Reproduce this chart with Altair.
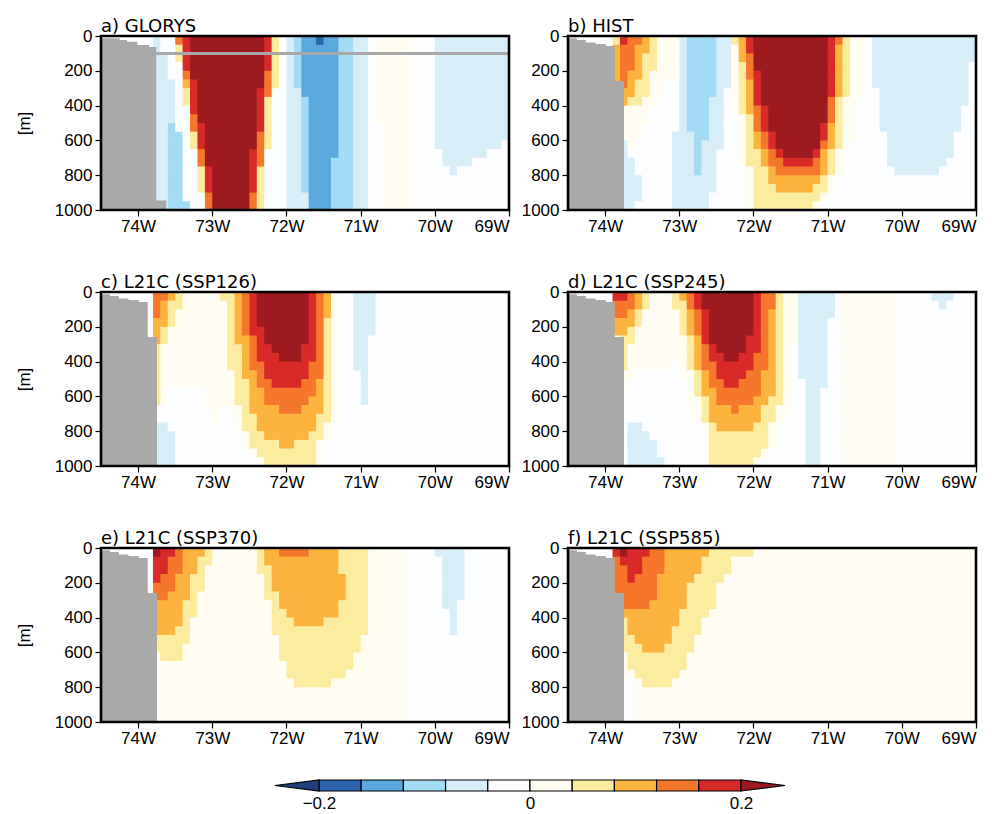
import sys
import altair as alt
import pandas as pd

# ------------------------------------------------------------------ data
# contour classes (one code per colour band of the colour bar)
CLASS_CODES = ["N", "B", "C", "D", "E", ".", "-", "y", "o", "O", "r", "R"]
CLASS_COLORS = ["#203f7e", "#2b65ad", "#5aa8dc", "#a3dbf5", "#d7eef9", "#fcfdff",
                "#fffdf2", "#fcec9f", "#fdb43e", "#f5772c", "#d92a2a", "#9d1a1f"]
LEVELS = [-0.2, -0.16, -0.12, -0.08, -0.04, 0.0, 0.04, 0.08, 0.12, 0.16, 0.2]
CB_LABELS = [-0.2, 0.0, 0.2]

LON_MIN, LON_MAX = -74.5, -69.0
LON_STEP = 0.1          # raster column width (deg)
DEPTH_STEP = 50         # raster row height (m)
NCOL = 55
LON_TICKS = [-74, -73, -72, -71, -70, -69]
DEPTH_TICKS = [0, 200, 400, 600, 800, 1000]

# bathymetry (stepped land mask): right edge of each step and its top depth
GLORYS_LAND_EDGE = [-74.25, -74.15, -74.01, -73.85, -73.755, -73.62]
GLORYS_LAND_TOP = [13, 23, 33, 52, 63, 946]
MODEL_LAND_EDGE = [-74.38, -74.26, -74.13, -73.99, -73.87, -73.745]
MODEL_LAND_TOP = [13, 23, 38, 46, 57, 259]
GLORYS_LINE_DEPTH = 100
GLORYS_LINE_START = -73.755

# rows of 50 m (0-1000 m), 55 columns of 0.1 deg (74.5W-69W), run-length coded
GLORYS_ROWS = [
    "7. E 2. O r 10R r y . E D 2C B 2C 2D 2E . 5- 3. 10E",
    "7. E 2. y r 10R r y . E D 5C 2D 2E . 5- 3. 10E",
    "7. 2E . y r 10R r y . E D 5C 2D 2E . 5- 3. 10E",
    "7. 2E 2. r 10R r y . E D 5C 2D 2E . 5- 3. 10E",
    "7. 2E 2. O 10R O y . E D 5C 2D 2E . 5- 3. 10E",
    "7. 3E . o r 9R O y . E D 5C 2D 2E . 5- 3. 10E",
    "7. 3E . y r 8R r O 2. 2E 5C 2D 2E . 5- 3. 10E",
    "7. 3E . y r 8R r y 2. 2E D 4C 2D 2E . 5- 3. 10E",
    "7. 3E 2. r 8R r y 2. 2E D 4C 2D 2E . 5- 3. 10E",
    "7. 3E 2. O 8R r y 2. 2E D 4C 2D 2E . 5- 3. 10E",
    "7. 2E D 2. O r 7R r y 2. 2E D 4C 2D 2E 2. 4- 3. 10E",
    "7. 2E 2D . y r 7R O y 2. 2E D 4C 2D 2E 2. 4- 3. 10E",
    "7. 2E 2D . y r 7R O y 2. 2E D 4C 2D 2E 2. 4- 3. 9E .",
    "7. 2E 2D 2. O 6R r O 3. 2E D 4C 2D 2E 2. 4- 3. . 6E 3.",
    "7. 2E 2D 2. O 6R r O 3. 2E D 3C 3D 2E 2. 4- 3. . 4E 5.",
    "7. 2E 2D 2. y r 5R r y 3. 2E D 3C 3D 2E 2. 4- 3. 2. E 7.",
    "7. 2E 2D 2. y r 5R r y 3. 2E D 3C 3D 2E 2. 4- 13.",
    "7. 2E 2D 2. y r 5R r y 3. 2E D 3C 3D 2E 2. 4- 13.",
    "7. 2E 2D 3. O 5R O y 3. 3E 3C 3D 2E 2. 4- 13.",
    "7. 2E 3D 2. O 5R O y 3. 3E 3C 3D 2E 2. 4- 13.",
]
HIST_ROWS = [
    "6. y r 2O o y 3- E 4D 2E y o r 10R r O y 2- . 14E",
    "6. o 2O 2o y 3- E 4D 2E - o r 10R r o y 2- . 14E",
    "6. o 2O o 2y 3- E 4D 2E - o O 10R r o y 2- . 14E",
    "6. o 2O o 2y 3- E 4D 2E - y O 10R r o y 2- . 13E .",
    "6. o O 2o y 4- E 4D 2E - y O r 9R r o y 2- . 13E .",
    "6. o O o 2y 2- 2. E 4D 2E - y o r 9R r o y 2- . 13E .",
    "6. o 2o 2y 2- 2. E 4D E . - y o r 9R r o y 2- 2. 12E .",
    "7. o 2y 2- 3. E 3D 2E . - y o r 9R O y 2- 3. 12E .",
    "7. 4- 4. E 3D 2E . - y o O r 8R O y 2- 3. 11E 2.",
    "7. 4- 4. E 3D 2E 2. - y O r 8R O y 2- 3. 11E 2.",
    "7. 3- 5. E 3D 2E 2. - y O r 7R r o y 2- 3. 11E 2.",
    "7. 3- 4. 3E 2D 2E 2. - y o O r 6R r o y 2- 4. 9E 3.",
    "7. E - 5. 3E D 3E 2. - y o O r 6R O o y - 5. 9E 3.",
    "7. E 6. 3E D 2E 3. - 2y o O r 4R r o y - 6. 9E 3.",
    "7. 2E 5. 3E D 2E 3. - 2y o 2O 4r O o y - 6. 8E 4.",
    "7. 2E 5. 3E D 2E 4. - 2y o 6O o y - 7. 6E 5.",
    "7. 3E 4. 6E 4. - 2y 7o y - 19.",
    "7. 3E 4. 6E 4. - 3y 5o 2y - 19.",
    "7. 3E 4. 5E 5. - 9y - 20.",
    "7. 2E 5. 5E 5. - 8y - 21.",
]
SSP126_ROWS = [
    "7. 2O o y 5- 2y o O r 7R r O o - 2. 3E 18.",
    "7. O o 2y 6- y o O r 7R r O o - 2. 3E 18.",
    "7. O o y 7- y o O r 7R r O o - 2. 3E 18.",
    "7. 2o y 7- y o O r 7R r O y - 2. 3E 18.",
    "7. o y 8- y o O 2r 6R r O y - 2. 3E 18.",
    "7. o y 8- y 2o O r 6R r O y - 2. 2E 19.",
    "7. y 9- 2y o O 2r 4R 2r O y - 2. 2E 19.",
    "7. y 9- 2y o O 3r 3R 2r O y - 2. 2E 19.",
    "7. y 9- 2y o 2O 6r 2O y - 2. 2E 19.",
    "7. y 10- y 2o O 6r 2O y - 3. E 19.",
    "7. y 10- 2y o 2O 4r 2O o y - 3. E 19.",
    "7. y - 5. 4- 2y 2o 7O o y - 3. E 19.",
    "7. y - 5. 4- 2y 2o 6O 2o y - 3. E 19.",
    "7. - 6. 2- . 2- y 4o 3O 3o y - 23.",
    "7. - 7. - 2. - 2y 8o 2y - 23.",
    "7. 2E 9. - 2y 8o y - 24.",
    "7. 3E 9. - 2y 6o 2y - 24.",
    "7. 3E 9. - 4y 2o 3y - 25.",
    "7. 3E 10. - 8y - 25.",
    "7. 3E 11. - 7y - 25.",
]
SSP245_ROWS = [
    "6. 2r O o y 3- y o O r 7R r 2O y 2- 5E . 7- 5. 3E 3.",
    "6. 3O o y 3- 2y O r 7R r 2O y 2- 5E . 7- 6. E 4.",
    "6. 2O o y 5- y o O r 6R r O o y 2- 5E . 7- 11.",
    "6. 3o y 5- y o O r 6R r O o y 2- 4E 2. 7- 11.",
    "6. 2o y 6- y o O r 6R r O o y 2- 4E 2. 7- 11.",
    "7. 2y 7- y o r 5R 2r O o y 2- 4E 2. 7- 11.",
    "7. y 8- y o O r 4R 2r O o y - . 4E 2. 7- 11.",
    "7. y 8- y o O 2r 2R 2r 2O o y - . 4E 2. 7- 11.",
    "7. y 6- . - y o 2O 5r 2O o y - . 4E 2. 7- 11.",
    "7. 2- 6. 2- y o O 4r 2O 2o y - . 4E 2. 7- 11.",
    "7. - 8. - y o 2O 2r 3O 2o y - 2. 3E 2. 7- 11.",
    "7. - 8. - y 2o 6O 2o y - 2. 2E 3. 7- 11.",
    "16. 2- y o 5O 2o 2y - 2. 2E 3. 7- 11.",
    "17. - y 3o O 3o 2y 2- 2. 2E 3. 7- 11.",
    "17. - y 7o 2y - 3. 2E 3. 7- 11.",
    "7. . 2E 8. - y 5o 2y - 4. 2E 3. 7- 11.",
    "8. 3E 7. - 8y - 4. 2E 3. 7- 11.",
    "8. 4E 6. - 8y - 4. 2E 3. 7- 11.",
    "8. 4E 6. - 7y - 5. 2E 3. 7- 11.",
    "8. 5E 5. - 6y - 6. 2E 3. 7- 11.",
]
SSP370_ROWS = [
    "7. R 2r O 3o y 6- y 2o 4O 4o 4y 5- 4. 4E 6.",
    "7. 2r 2O 2o 2y 6- y 10o 4y 5- 5. 3E 6.",
    "7. 2r 2O 2o y 7- 2y 9o 4y 5- 5. 3E 6.",
    "7. r 2O 2o 2y 8- y 10o 3y 5- 5. 3E 6.",
    "7. 3O 2o 2y 8- y 10o 3y 5- 5. 3E 6.",
    "7. 2O 3o y 9- 2y 9o 3y 5- 5. 3E 6.",
    "7. 4o 2y 10- y 8o 4y 5- 5. 2E 7.",
    "7. 4o 2y 10- 2y 7o 4y 5- 6. E 7.",
    "7. 4o y 11- 3y 4o 6y 5- 6. E 7.",
    "7. 3o 2y 11- 13y 5- 6. E 7.",
    "7. 5y 12- 11y 6- 14.",
    "7. 4y 13- 11y 6- 14.",
    "7. - 3y 13- 10y 7- 14.",
    "7. 18- 9y 7- 14.",
    "7. 18- 8y 8- 14.",
    "7. 19- 5y 10- 14.",
    "7. 34- 14.",
    "7. 34- 14.",
    "7. 34- 14.",
    "7. 34- 14.",
]
SSP585_ROWS = [
    "6. r R 3r 2O 6o 6y 30-",
    "6. O 3r 3O 5o 4y 33-",
    "6. 2O 2r 3O 5o 4y 33-",
    "6. 2O r 3O 5o 4y 34-",
    "6. 6O 4o 4y 35-",
    "6. 6O 4o 4y 35-",
    "6. 5O 5o 4y 35-",
    "7. 8o 4y 36-",
    "7. y 7o 3y 37-",
    "7. y 6o 4y 37-",
    "7. 2y 5o 3y 38-",
    "7. 3y 3o 4y 38-",
    "7. - 8y 39-",
    "7. - 8y 39-",
    "7. 2- 6y 40-",
    "9. - 4y 41-",
    "9. 46-",
    "9. 46-",
    "9. 46-",
    "9. 46-",
]

# ------------------------------------------------------------------ helpers
FONT_TICK = "Liberation Sans"
FONT_TITLE = "DejaVu Sans"
PW, PH = 408, 174
OVER_LON, OVER_D = 0.012, 5   # tiny overlap between raster cells (hides seams)


def decode(row):
    out = ""
    for tok in row.split():
        n = int(tok[:-1]) if len(tok) > 1 else 1
        out += tok[-1] * n
    if len(out) != NCOL:
        print("row length", len(out), row, file=sys.stderr)
        out = (out + "." * NCOL)[:NCOL]
    return out


def raster_df(rows):
    recs = []
    nrow = len(rows)
    for j, row in enumerate(rows):
        s = decode(row)
        k = 0
        while k < NCOL:
            k2 = k
            while k2 + 1 < NCOL and s[k2 + 1] == s[k]:
                k2 += 1
            lon1 = LON_MIN + (k2 + 1) * LON_STEP + (OVER_LON if k2 + 1 < NCOL else 0)
            d1 = (j + 1) * DEPTH_STEP + (OVER_D if j + 1 < nrow else 0)
            recs.append(dict(lon0=LON_MIN + k * LON_STEP, lon1=lon1,
                             d0=j * DEPTH_STEP, d1=d1, cls=s[k]))
            k = k2 + 1
    return pd.DataFrame(recs)


def land_df(edges, tops):
    # every step starts at the western edge, so the staircase has no seams
    n = len(edges)
    return pd.DataFrame(dict(lon0=[LON_MIN] * n, lon1=edges, d0=tops, d1=[1000] * n))


CSCALE = alt.Scale(domain=CLASS_CODES, range=CLASS_COLORS)
XS = alt.Scale(domain=[LON_MIN, LON_MAX], nice=False, zero=False)
YS = alt.Scale(domain=[0, 1000], reverse=True, nice=False, zero=False)

X_AXIS = alt.Axis(values=LON_TICKS, labelExpr="abs(datum.value) + 'W'", title=None, grid=False,
                  domain=False, tickSize=6, tickWidth=1.2, tickColor="black",
                  labelFont=FONT_TICK, labelFontSize=17, labelColor="black", labelPadding=2)


def y_axis(title):
    kw = dict(values=DEPTH_TICKS, format="d", grid=False, domain=False, tickSize=6,
              tickWidth=1.2, tickColor="black", labelFont=FONT_TICK, labelFontSize=17,
              labelColor="black", labelPadding=3)
    if title:
        return alt.Axis(title=title, titleFont=FONT_TICK, titleFontSize=17,
                        titleFontWeight="normal", titleColor="black", titlePadding=21, **kw)
    return alt.Axis(title=None, **kw)


def enc(chart, yaxis):
    return chart.encode(
        x=alt.X("lon0:Q", scale=XS, axis=X_AXIS),
        x2="lon1:Q",
        y=alt.Y("d0:Q", scale=YS, axis=yaxis),
        y2="d1:Q",
    )


def panel(rows, land, title, ytitle, line_df=None):
    ya = y_axis(ytitle)
    field = enc(alt.Chart(raster_df(rows)).mark_rect(strokeWidth=0), ya).encode(
        fill=alt.Fill("cls:N", scale=CSCALE, legend=None),
    )
    layers = [field, enc(alt.Chart(land).mark_rect(color="#a9a9a9", strokeWidth=0), ya)]
    if line_df is not None:
        layers.append(alt.Chart(line_df).mark_rule(color="#a8a8a8", strokeWidth=3).encode(
            x=alt.X("lon0:Q", scale=XS, axis=X_AXIS), x2="lon1:Q",
            y=alt.Y("d0:Q", scale=YS, axis=ya)))
    frame = pd.DataFrame(dict(lon0=[LON_MIN], lon1=[LON_MAX], d0=[0], d1=[1000]))
    layers.append(enc(alt.Chart(frame).mark_rect(fillOpacity=0, stroke="black", strokeWidth=2.6), ya))
    return alt.layer(*layers).properties(
        width=PW, height=PH,
        title=alt.TitleParams(text=title, anchor="start", frame="group", font=FONT_TITLE,
                              fontSize=18, fontWeight="normal", color="black", offset=-9))


model_land = land_df(MODEL_LAND_EDGE, MODEL_LAND_TOP)
glorys_land = land_df(GLORYS_LAND_EDGE, GLORYS_LAND_TOP)
glorys_line = pd.DataFrame(dict(lon0=[GLORYS_LINE_START], lon1=[LON_MAX], d0=[GLORYS_LINE_DEPTH]))

pa = panel(GLORYS_ROWS, glorys_land, "a) GLORYS", "[m]", glorys_line)
pb = panel(HIST_ROWS, model_land, "b) HIST", None)
pc = panel(SSP126_ROWS, model_land, "c) L21C (SSP126)", "[m]")
pd_ = panel(SSP245_ROWS, model_land, "d) L21C (SSP245)", None)
pe = panel(SSP370_ROWS, model_land, "e) L21C (SSP370)", "[m]")
pf = panel(SSP585_ROWS, model_land, "f) L21C (SSP585)", None)

grid = alt.concat(pa, pb, pc, pd_, pe, pf, columns=2,
                  spacing=alt.RowColnumber(row=82, column=59), bounds="flush")

# ------------------------------------------------------------------ colour bar
CB_TIP = 0.0417
CB_X0, CB_X1 = -0.4066, 0.4237
CBX = alt.Scale(domain=[CB_X0, CB_X1], nice=False, zero=False)
CBY = alt.Scale(domain=[0, 1], nice=False, zero=False)
CB_AXIS = alt.Axis(values=CB_LABELS, title=None, grid=False, domain=False, ticks=False,
                   labelExpr="datum.value < 0 ? '\u2212' + format(-datum.value, '.1f') : format(datum.value, '.1~f')",
                   labelFont=FONT_TICK, labelFontSize=17, labelColor="black", labelPadding=4)

cb_boxes = pd.DataFrame(dict(v0=LEVELS[:-1], v1=LEVELS[1:], cls=CLASS_CODES[1:11],
                             b0=[0] * 10, b1=[1] * 10))
cb_tri = pd.DataFrame(dict(
    v=[LEVELS[0] - CB_TIP, LEVELS[0], LEVELS[-1], LEVELS[-1] + CB_TIP],
    lo=[0.5, 0, 0, 0.5], hi=[0.5, 1, 1, 0.5],
    cls=[CLASS_CODES[0], CLASS_CODES[0], CLASS_CODES[-1], CLASS_CODES[-1]]))

boxes = alt.Chart(cb_boxes).mark_rect(stroke="black", strokeWidth=1.2).encode(
    x=alt.X("v0:Q", scale=CBX, axis=CB_AXIS), x2="v1:Q",
    y=alt.Y("b0:Q", scale=CBY, axis=None), y2="b1:Q",
    fill=alt.Fill("cls:N", scale=CSCALE, legend=None))
tris = alt.Chart(cb_tri).mark_area(stroke="black", strokeWidth=1.2, orient="vertical").encode(
    x=alt.X("v:Q", scale=CBX, axis=CB_AXIS),
    y=alt.Y("lo:Q", scale=CBY, axis=None), y2="hi:Q",
    fill=alt.Fill("cls:N", scale=CSCALE, legend=None))
colorbar = alt.layer(boxes, tris).properties(width=876, height=11)

chart = alt.vconcat(grid, colorbar, spacing=31).properties(
    padding={"left": 7, "top": 10, "right": 5, "bottom": 0}, background="white"
).configure_view(stroke="transparent", strokeWidth=0)

chart.save("out.html", embed_options={"renderer": "svg", "actions": False})
